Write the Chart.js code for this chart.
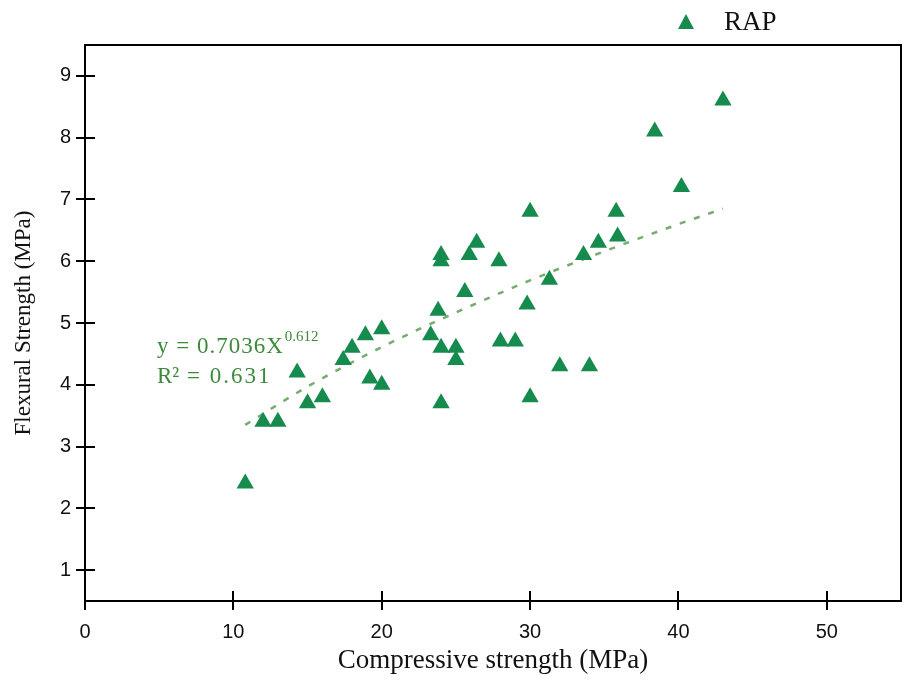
<!DOCTYPE html>
<html>
<head>
<meta charset="utf-8">
<script src="https://cdn.jsdelivr.net/npm/chart.js@4.4.1/dist/chart.umd.min.js"></script>
<style>
html,body{margin:0;padding:0;background:#fff;}
#wrap{width:911px;height:693px;position:relative;}
</style>
</head>
<body>
<div id="wrap"><canvas id="c" width="911" height="693"></canvas></div>
<script>
// Data
const compressiveStrength = [10.8, 12.0, 13.0, 14.3, 15.0, 16.0, 17.4, 18.0, 18.9, 20.0, 19.2, 20.0,
  24.0, 24.0, 26.4, 25.9, 27.9, 25.6, 23.8, 31.3, 29.8, 23.3, 24.0, 25.0, 25.0, 28.0, 29.0,
  24.0, 30.0, 32.0, 34.0, 30.0, 35.8, 35.9, 34.6, 33.6, 38.4, 40.2, 43.0];
const flexuralStrength = [2.4, 3.4, 3.4, 4.2, 3.7, 3.8, 4.4, 4.6, 4.8, 4.9, 4.1, 4.0,
  6.1, 6.0, 6.3, 6.1, 6.0, 5.5, 5.2, 5.7, 5.3, 4.8, 4.6, 4.6, 4.4, 4.7, 4.7,
  3.7, 3.8, 4.3, 4.3, 6.8, 6.8, 6.4, 6.3, 6.1, 8.1, 7.2, 8.6];
const trendX = [10.8, 15, 20, 25, 30, 35, 40, 43];
const trendY = [3.35, 3.97, 4.61, 5.17, 5.69, 6.16, 6.60, 6.85];
const xTickValues = [0, 10, 20, 30, 40, 50];
const yTickValues = [1, 2, 3, 4, 5, 6, 7, 8, 9];
const seriesName = 'RAP';
const equationLines = ['y = 0.7036X', '0.612', 'R\u00B2', ' = 0.631'];

const green = '#168b4e';
const scatterPts = compressiveStrength.map((x, i) => ({x: x, y: flexuralStrength[i]}));
const trendPts = trendX.map((x, i) => ({x: x, y: trendY[i]}));

const extras = {
  id: 'extras',
  afterDraw(chart) {
    const ctx = chart.ctx;
    const xs = chart.scales.x, ys = chart.scales.y;
    const a = chart.chartArea;
    ctx.save();
    // inner halves of tick marks
    ctx.strokeStyle = '#000';
    ctx.lineWidth = 2;
    ctx.beginPath();
    yTickValues.forEach(v => {
      const p = Math.round(ys.getPixelForValue(v));
      ctx.moveTo(a.left, p); ctx.lineTo(a.left + 10, p);
    });
    xTickValues.forEach(v => {
      if (v === 0) return;
      const p = Math.round(xs.getPixelForValue(v));
      ctx.moveTo(p, a.bottom); ctx.lineTo(p, a.bottom - 10);
    });
    ctx.stroke();
    // box top and right
    ctx.beginPath();
    ctx.moveTo(a.left, a.top); ctx.lineTo(a.right, a.top); ctx.lineTo(a.right, a.bottom);
    ctx.stroke();
    // equation text
    ctx.fillStyle = '#3d8a3d';
    ctx.textBaseline = 'alphabetic';
    ctx.textAlign = 'left';
    ctx.font = '23px "Liberation Serif", serif';
    ctx.letterSpacing = '1px';
    ctx.fillText(equationLines[0], 157, 353);
    const w = ctx.measureText(equationLines[0]).width;
    ctx.font = '15px "Liberation Serif", serif';
    ctx.letterSpacing = '0px';
    ctx.fillText(equationLines[1], 157 + w + 1, 341);
    ctx.font = '23px "Liberation Serif", serif';
    ctx.fillText(equationLines[2], 157, 383);
    const w2 = ctx.measureText(equationLines[2]).width;
    ctx.letterSpacing = '2px';
    ctx.fillText(equationLines[3], 157 + w2, 383);
    ctx.letterSpacing = '0px';
    // legend
    ctx.fillStyle = green;
    ctx.beginPath();
    ctx.moveTo(686, 14); ctx.lineTo(694, 29); ctx.lineTo(678, 29); ctx.closePath();
    ctx.fill();
    ctx.fillStyle = '#111';
    ctx.font = '27px "Liberation Serif", serif';
    ctx.textBaseline = 'middle';
    ctx.fillText(seriesName, 724, 23);
    ctx.restore();
  }
};

new Chart(document.getElementById('c'), {
  type: 'scatter',
  data: {
    datasets: [
      {
        label: seriesName,
        data: scatterPts,
        pointStyle: 'triangle',
        pointRadius: 10,
        pointHoverRadius: 10,
        backgroundColor: green,
        borderColor: green,
        borderWidth: 0,
        order: 1
      },
      {
        label: 'trend',
        type: 'line',
        data: trendPts,
        showLine: true,
        borderColor: '#74ad6e',
        borderWidth: 2.5,
        borderDash: [6, 9],
        pointRadius: 0,
        cubicInterpolationMode: 'monotone',
        fill: false,
        order: 2
      }
    ]
  },
  options: {
    responsive: false,
    animation: false,
    layout: {padding: {top: 45, right: 5, left: 10, bottom: 16}},
    plugins: {legend: {display: false}, tooltip: {enabled: false}},
    scales: {
      x: {
        type: 'linear',
        min: 0, max: 55,
        afterBuildTicks: s => { s.ticks = xTickValues.map(v => ({value: v})); },
        afterFit: s => { s.height = 76; },
        grid: {display: true, drawOnChartArea: false, drawTicks: true, tickLength: 9, color: '#000', lineWidth: 2},
        border: {display: true, color: '#000', width: 2},
        ticks: {color: '#111', font: {family: '"Liberation Sans", Arial, sans-serif', size: 20}, padding: 10, maxRotation: 0},
        title: {display: true, text: 'Compressive strength (MPa)', color: '#111',
                font: {family: '"Liberation Serif", serif', size: 27}, padding: {top: 0, bottom: 0}}
      },
      y: {
        type: 'linear',
        min: 0.5, max: 9.5,
        afterBuildTicks: s => { s.ticks = yTickValues.map(v => ({value: v})); },
        afterFit: s => { s.width = 75; },
        grid: {display: true, drawOnChartArea: false, drawTicks: true, tickLength: 9, color: '#000', lineWidth: 2},
        border: {display: true, color: '#000', width: 2},
        ticks: {color: '#111', font: {family: '"Liberation Sans", Arial, sans-serif', size: 20}, padding: 5},
        title: {display: true, text: 'Flexural Strength (MPa)', color: '#111',
                font: {family: '"Liberation Serif", serif', size: 23}, padding: {top: 0, bottom: 0}}
      }
    }
  },
  plugins: [extras]
});
</script>
</body>
</html>
